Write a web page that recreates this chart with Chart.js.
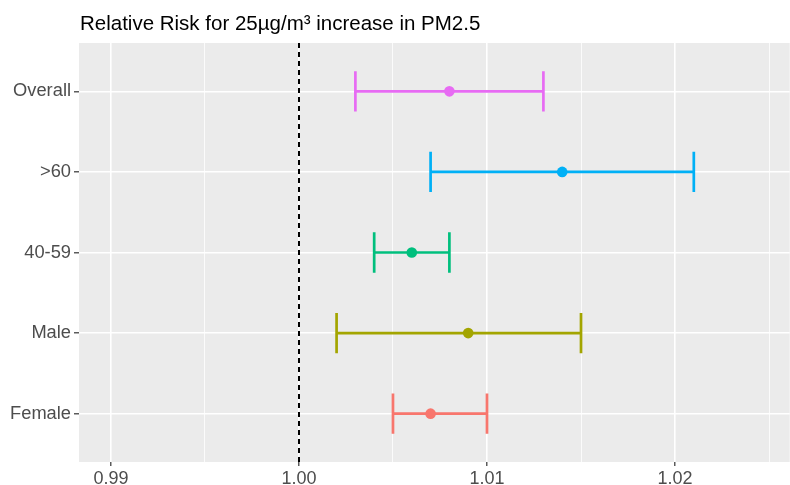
<!DOCTYPE html>
<html>
<head>
<meta charset="utf-8">
<script src="https://cdn.jsdelivr.net/npm/chart.js@4.4.1/dist/chart.umd.min.js"></script>
<style>
  body { margin: 0; background: #fff; overflow: hidden; }
  /* a few px wider than the window so the panel runs to the right edge like ggplot's */
  #wrap { width: 795px; height: 485px; position: relative; }
</style>
</head>
<body>
<div id="wrap"><canvas id="rr"></canvas></div>
<script>
// bottom to top, like the ggplot factor order
const groups = ["Female", "Male", "40-59", ">60", "Overall"];
const estimate = [1.007, 1.009, 1.006, 1.014, 1.008];
const lower = [1.005, 1.002, 1.004, 1.007, 1.003];
const upper = [1.010, 1.015, 1.008, 1.021, 1.013];
const colors = ["#F8766D", "#A3A500", "#00BF7D", "#00B0F6", "#E76BF3"];
const xTicks = [0.99, 0.995, 1.00, 1.005, 1.01, 1.015, 1.02, 1.025];
const refLine = 1.0;
const title = "Relative Risk for 25\u00b5g/m\u00b3 increase in PM2.5";

const isMajor = (v) => Math.round(v * 1000) % 10 === 0;

const panelBg = {
  id: "panelBg",
  beforeDraw(chart) {
    const { ctx, chartArea: a } = chart;
    ctx.save();
    ctx.fillStyle = "#EBEBEB";
    ctx.fillRect(a.left, a.top, a.right - a.left, a.bottom - a.top);
    ctx.restore();
  },
};

const errorBars = {
  id: "errorBars",
  beforeDatasetsDraw(chart) {
    const { ctx, chartArea: a, scales } = chart;
    const x = scales.x, y = scales.y;
    ctx.save();
    // dashed reference line
    ctx.strokeStyle = "#000";
    ctx.lineWidth = 2;
    ctx.setLineDash([5, 4]);
    const rx = Math.round(x.getPixelForValue(refLine));
    ctx.beginPath();
    ctx.moveTo(rx, a.top);
    ctx.lineTo(rx, a.bottom);
    ctx.stroke();
    ctx.setLineDash([]);

    ctx.lineWidth = 2.7;
    groups.forEach((g, i) => {
      const yc = y.getPixelForValue(i);
      const y0 = y.getPixelForValue(i + 0.25);
      const y1 = y.getPixelForValue(i - 0.25);
      const xl = x.getPixelForValue(lower[i]);
      const xu = x.getPixelForValue(upper[i]);
      ctx.strokeStyle = colors[i];
      ctx.beginPath();
      ctx.moveTo(xl, yc); ctx.lineTo(xu, yc);
      ctx.moveTo(xl, y0); ctx.lineTo(xl, y1);
      ctx.moveTo(xu, y0); ctx.lineTo(xu, y1);
      ctx.stroke();
    });
    ctx.restore();
  },
  afterDraw(chart) {
    const { ctx, chartArea: a } = chart;
    ctx.save();
    ctx.fillStyle = "#000";
    ctx.font = "20.5px 'Liberation Sans', Arial, sans-serif";
    ctx.textBaseline = "alphabetic";
    ctx.fillText(title, a.left + 1, 30);
    ctx.restore();
  },
};

new Chart(document.getElementById("rr"), {
  type: "scatter",
  data: {
    datasets: [
      {
        data: groups.map((g, i) => ({ x: estimate[i], y: i })),
        pointBackgroundColor: colors,
        pointBorderColor: colors,
        pointRadius: 5.3,
        pointBorderWidth: 0,
      },
    ],
  },
  options: {
    responsive: true,
    maintainAspectRatio: false,
    animation: false,
    layout: { padding: { top: 43, right: 0, left: 0, bottom: 0 } },
    plugins: { legend: { display: false }, tooltip: { enabled: false } },
    scales: {
      x: {
        type: "linear",
        min: 0.9883,
        max: 1.0261,
        afterBuildTicks: (s) => { s.ticks = xTicks.map((v) => ({ value: v })); },
        afterFit: (s) => { s.height = 23; },
        border: { display: false },
        grid: {
          color: "#FFFFFF",
          lineWidth: (c) => (c.tick && isMajor(c.tick.value) ? 1.6 : 0.8),
          tickColor: (c) => (c.tick && isMajor(c.tick.value) ? "#333333" : "rgba(0,0,0,0)"),
          tickLength: 4,
          tickWidth: 1.2,
        },
        ticks: {
          autoSkip: false,
          maxRotation: 0,
          padding: 2,
          color: "#4D4D4D",
          font: { family: "'Liberation Sans', Arial, sans-serif", size: 18 },
          callback: (v) => (isMajor(v) ? v.toFixed(2) : ""),
        },
      },
      y: {
        type: "linear",
        min: -0.6,
        max: 4.6,
        afterBuildTicks: (s) => { s.ticks = groups.map((g, i) => ({ value: i })); },
        afterFit: (s) => { s.width = 79; },
        border: { display: false },
        grid: {
          color: "#FFFFFF",
          lineWidth: 1.6,
          tickColor: "#333333",
          tickLength: 5,
          tickWidth: 1.2,
        },
        ticks: {
          padding: 3,
          color: "#4D4D4D",
          font: { family: "'Liberation Sans', Arial, sans-serif", size: 18.3 },
          callback: (v) => groups[v],
        },
      },
    },
  },
  plugins: [panelBg, errorBars],
});
</script>
</body>
</html>
